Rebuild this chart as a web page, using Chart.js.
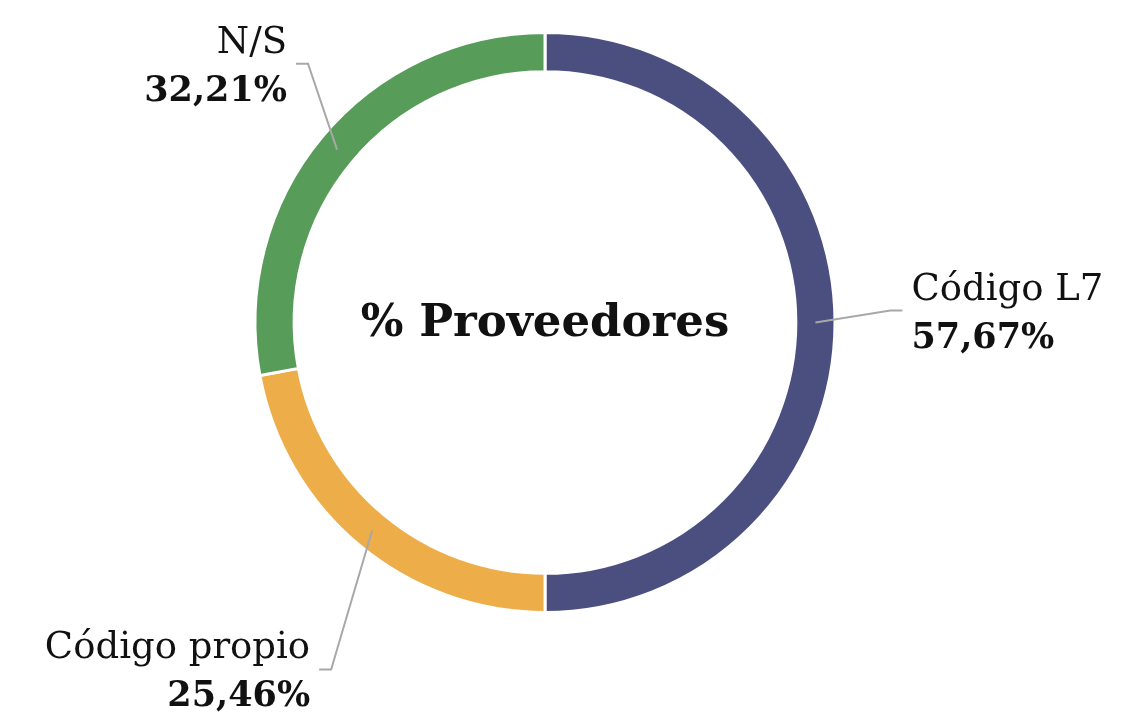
<!DOCTYPE html>
<html>
<head>
<meta charset="utf-8">
<script src="https://cdn.jsdelivr.net/npm/chart.js@4.4.1/dist/chart.umd.min.js"></script>
<style>
    html, body { margin: 0; padding: 0; background: #ffffff; }
    #wrap { width: 1127px; height: 721px; }
</style>
</head>
<body>
<div id="wrap"><canvas id="provChart" width="1127" height="721"></canvas></div>
<script>
const categories = ["Código L7", "Código propio", "N/S"];
const shares = [57.67, 25.46, 32.21];
const sliceColors = ["#4a4f80", "#edae49", "#579c59"];
const centerTitle = "% Proveedores";

const FONT = "'DejaVu Serif', serif";

// where each callout goes, relative to the middle of its slice
const callouts = [
    { dx: 75, dy: -12, tail: 12 },
    { dx: -41, dy: 139, tail: -12 },
    { dx: -29, dy: -86, tail: -12 },
];

const fmt = (v) => v.toFixed(2).replace(".", ",") + "%";

/*
 * Leader lines, slice labels and the title in the hole */
const calloutPlugin = {
    id: "callouts",
    afterDraw(chart) {
        const ctx = chart.ctx;
        const meta = chart.getDatasetMeta(0);

        ctx.save();
        meta.data.forEach((arc, i) => {
            const mid = (arc.startAngle + arc.endAngle) / 2;
            const r = (arc.innerRadius + arc.outerRadius) / 2;
            const ax = arc.x + Math.cos(mid) * r;
            const ay = arc.y + Math.sin(mid) * r;
            const c = callouts[i];
            const ex = ax + c.dx;
            const ey = ay + c.dy;
            const tx = ex + c.tail;

            ctx.strokeStyle = "#a8a8a8";
            ctx.lineWidth = 2;
            ctx.beginPath();
            ctx.moveTo(ax, ay);
            ctx.lineTo(ex, ey);
            ctx.lineTo(tx, ey);
            ctx.stroke();

            const right = c.tail < 0;
            const lx = tx + (right ? -9 : 9);
            ctx.textAlign = right ? "right" : "left";
            ctx.textBaseline = "alphabetic";
            ctx.fillStyle = "#111111";
            ctx.font = "37px " + FONT;
            ctx.fillText(categories[i], lx, ey - 11);
            ctx.font = "bold 35px " + FONT;
            ctx.fillText(fmt(shares[i]), lx, ey + 37);
        });

        const a0 = meta.data[0];
        ctx.textAlign = "center";
        ctx.textBaseline = "alphabetic";
        ctx.fillStyle = "#111111";
        ctx.font = "bold 45px " + FONT;
        ctx.fillText(centerTitle, a0.x, a0.y + 13);
        ctx.restore();
    },
};

const ctx = document.getElementById("provChart");

new Chart(ctx, {
    type: "doughnut",
    data: {
        labels: categories,
        datasets: [
            {
                label: "% Proveedores",
                data: shares,
                backgroundColor: sliceColors,
                borderColor: "#ffffff",
                borderWidth: 3,
            },
        ],
    },
    options: {
        responsive: false,
        animation: false,
        cutout: "86.5%",
        layout: {
            padding: { top: 31, bottom: 107, left: 0, right: 37 },
        },
        plugins: {
            legend: { display: false },
            tooltip: { enabled: false },
        },
    },
    plugins: [calloutPlugin],
});
</script>
</body>
</html>
